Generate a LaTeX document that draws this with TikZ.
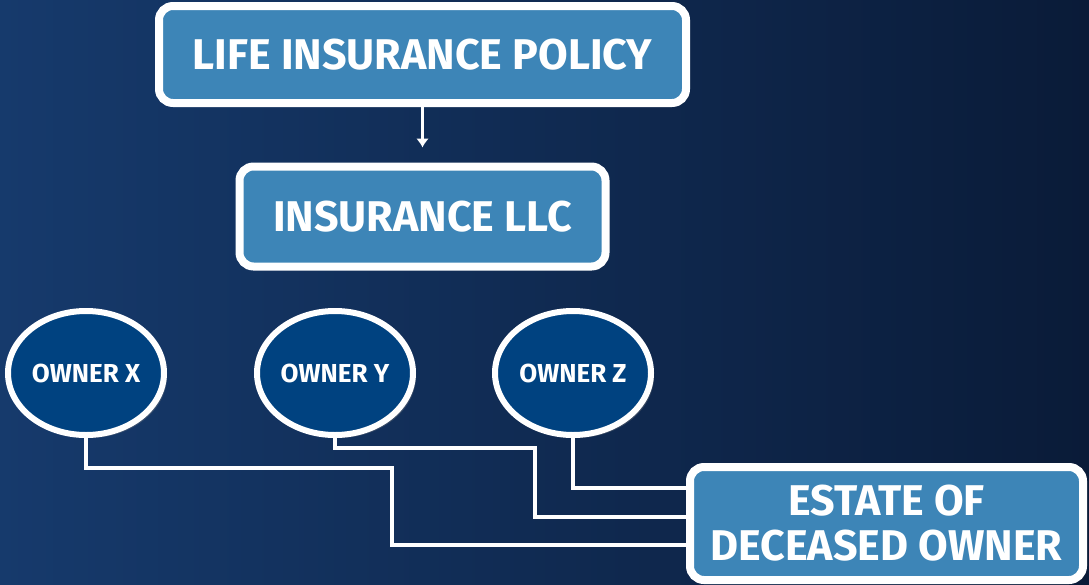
\documentclass[tikz,border=0pt]{standalone}
\usepackage{fontspec}
\setmainfont{Fira Sans}
\usepackage {tikz}
\usetikzlibrary {positioning}
\usetikzlibrary{shapes,shadows,arrows.meta}

\definecolor{bg_left}{RGB}{22,58,108}
\definecolor{bg_right}{RGB}{10,27,56}
\definecolor{box_blue}{RGB}{61,133,183}
\definecolor{owner_blue}{RGB}{0,66,128}

\begin{document}
\begin{tikzpicture}[x=1pt, y=-1pt, auto, node distance =162pt, on grid,
  box/.style ={ rectangle, rounded corners = 14pt, fill = box_blue, draw = white,
  line width = 8pt, text = white, font = \bfseries\fontsize{43}{45}\selectfont,
  align = center, inner sep = 0pt,
  drop shadow = {opacity = 0.35, shadow xshift = 3pt, shadow yshift = -3pt}},
  owner/.style ={ ellipse, fill = owner_blue, draw = white, line width = 6pt,
  text = white, font = \bfseries\fontsize{26}{28}\selectfont,
  inner sep = 0pt, minimum width = 156pt, minimum height = 124pt,
  drop shadow = {opacity = 0.35, shadow xshift = 3pt, shadow yshift = -3pt}},
  link/.style ={ draw = white, line width = 4pt}]
  % background
  \fill[left color = bg_left, right color = bg_right] (0,0) rectangle (1089,584);

  \node[box, minimum width = 527pt, minimum height = 97pt] (policy) at (422.5,54.5)
  {LIFE INSURANCE POLICY};
  \node[box, minimum width = 366pt, minimum height = 100pt] (llc) [below=of policy]
  {INSURANCE LLC};

  \node[owner] (owner_x) at (86,373) {OWNER X};
  \node[owner] (owner_y) at (335,373) {OWNER Y};
  \node[owner] (owner_z) at (573,373) {OWNER Z};

  \coordinate (in_z) at (692,488);
  \coordinate (in_y) at (692,517);
  \coordinate (in_x) at (692,545);
  \path (policy) edge [-{Latex[length=9pt, width=13pt]}, white, line width = 2.5pt,
    shorten >= 15pt] (llc);
  \draw[link] (owner_x.south) |- (392,468) |- (in_x);
  \draw[link] (owner_y.south) |- (535,448) |- (in_y);
  \draw[link] (owner_z.south) |- (in_z);

  \node[box, minimum width = 393pt, minimum height = 113pt] (estate) at (886.5,523.5)
  {ESTATE OF\\DECEASED OWNER};
\end{tikzpicture}
\end{document}
